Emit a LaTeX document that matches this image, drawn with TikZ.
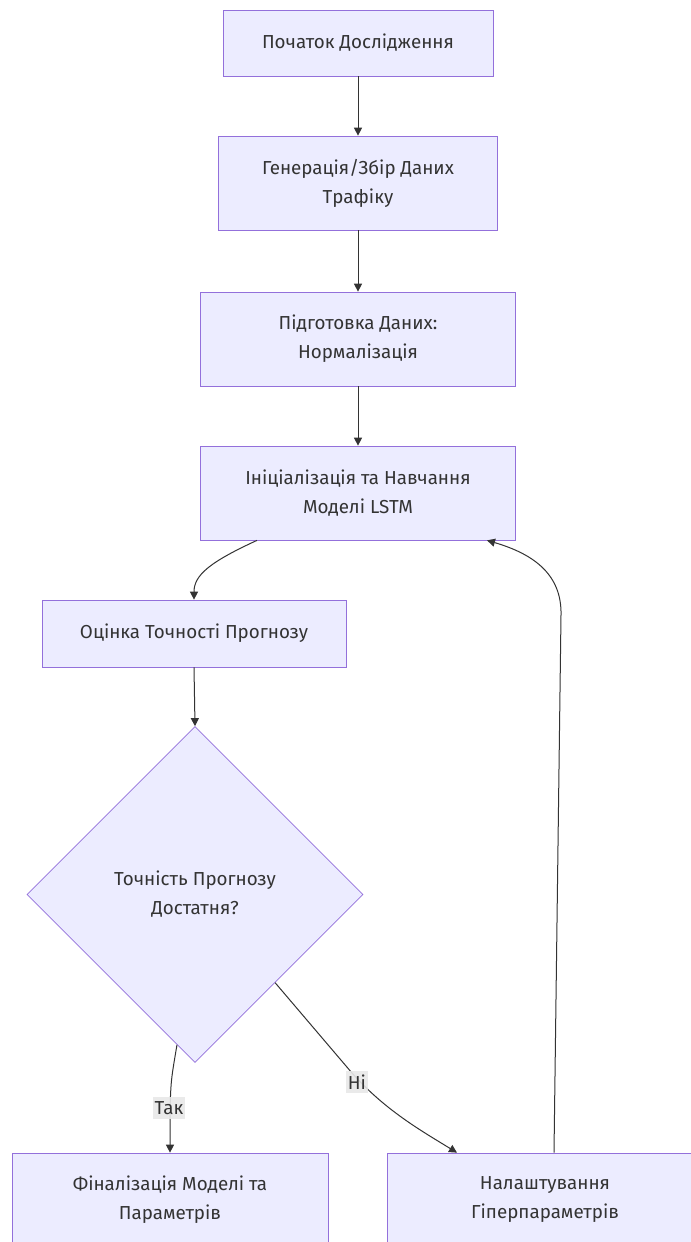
\documentclass[tikz,border=0pt]{standalone}
\usepackage{fontspec}
\setmainfont{Fira Sans}
\usetikzlibrary{shapes.geometric,arrows.meta,calc}
\definecolor{boxfill}{HTML}{ECECFF}
\definecolor{boxline}{HTML}{9370DB}
\definecolor{ink}{HTML}{333333}
\definecolor{lblbg}{HTML}{E8E8E8}
\tikzset{
  proc/.style={draw=boxline, fill=boxfill, line width=0.7bp, rectangle, align=center,
    text=ink, font=\fontsize{18.8bp}{29bp}\selectfont, inner sep=0pt},
  decision/.style={draw=boxline, fill=boxfill, line width=0.7bp, diamond, aspect=1,
    minimum width=336bp, minimum height=336bp, inner sep=0pt, align=center,
    text=ink, font=\fontsize{18.8bp}{29bp}\selectfont},
  conn/.style={draw=ink, line width=1bp, -{Triangle[length=8bp,width=8bp]}},
  lbl/.style={fill=lblbg, fill opacity=0.9, text opacity=1, text=ink,
    font=\fontsize{18.8bp}{22bp}\selectfont, inner xsep=2bp, inner ysep=4bp}
}
\begin{document}
\begin{tikzpicture}[x=1bp,y=-1bp]
\useasboundingbox (0,0) rectangle (691,1242);
\clip (0,0) rectangle (691,1242);
\fill[white] (0,0) rectangle (691,1242);

\node[proc, minimum width=270bp, minimum height=66bp] (b1) at (358,43) {Початок Дослідження};
\node[proc, minimum width=279bp, minimum height=94bp] (b2) at (358,183) {Генерація/Збір Даних\\Трафіку};
\node[proc, minimum width=315bp, minimum height=94bp] (b3) at (358,339) {Підготовка Даних:\\Нормалізація};
\node[proc, minimum width=315bp, minimum height=94bp] (b4) at (358,493) {Ініціалізація та Навчання\\Моделі LSTM};
\node[proc, minimum width=304bp, minimum height=67bp] (b5) at (194,633.5) {Оцінка Точності Прогнозу};
\node[decision] (d) at (195,894.5) {Точність Прогнозу\\Достатня?};
\node[proc, minimum width=316bp, minimum height=94bp] (f) at (170,1200) {Фіналізація Моделі та\\Параметрів};
\node[proc, minimum width=316bp, minimum height=94bp] (h) at (545,1200) {Налаштування\\Гіперпараметрів};

\draw[conn] (b1.south) -- (b2.north);
\draw[conn] (b2.south) -- (b3.north);
\draw[conn] (b3.south) -- (b4.north);
\draw[conn] ([xshift=-101bp]b4.south) .. controls (210,562) and (194,575) .. (b5.north);
\draw[conn] (b5.south) -- (d.north);

\coordinate (dy) at ($(d.south)!0.107!(d.west)$);
\coordinate (dn) at ($(d.east)!0.524!(d.south)$);
\draw[conn] (dy) .. controls (171,1080) .. (170,1110) -- (f.north);
\draw[conn] (dn) -- (352,1073) .. controls (385,1110) and (420,1130) .. ([xshift=-88bp]h.north);
\draw[conn] ([xshift=9bp]h.north) -- (561,615) .. controls (562,572) and (530,553) .. ([xshift=129bp]b4.south);

\node[lbl] (ltak) at (169,1108) {Так};
\node[lbl] (lni) at (357,1082) {Ні};
\end{tikzpicture}
\end{document}
